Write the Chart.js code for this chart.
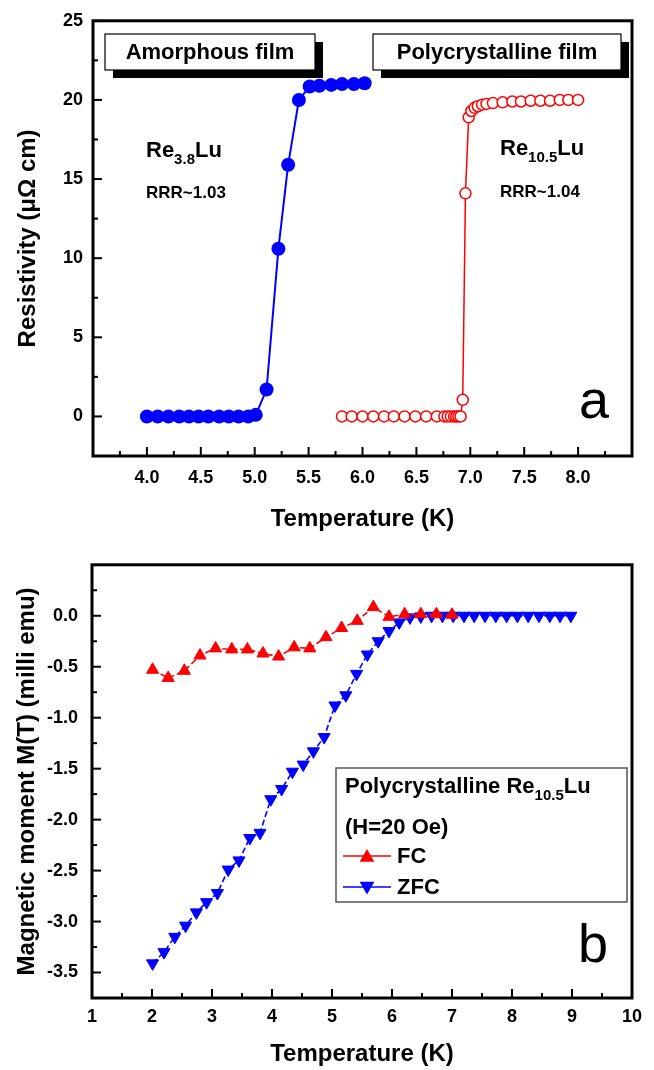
<!DOCTYPE html>
<html><head><meta charset="utf-8">
<script src="https://cdn.jsdelivr.net/npm/chart.js@4.4.1/dist/chart.umd.min.js"></script>
<style>
html,body{margin:0;padding:0;background:#fff;}
#wrap{position:relative;width:654px;height:1070px;overflow:hidden;}
canvas{position:absolute;left:0;}
#c1{top:0;} #c2{top:540px;}
</style></head><body>
<div id="wrap"><canvas id="c1" width="654" height="540"></canvas><canvas id="c2" width="654" height="530"></canvas></div>
<script>
const FONT = '"Liberation Sans", Arial, Helvetica, sans-serif';

// ---------- Panel a : resistivity ----------
const amorphT   = [4.0,4.1,4.2,4.3,4.39,4.48,4.57,4.67,4.76,4.85,4.94,5.01,5.11,5.22,5.31,5.41,5.51,5.6,5.71,5.81,5.92,6.02];
const amorphRho = [0,0,0,0,0,0,0,0,0,0,0,0.1,1.7,10.6,15.9,20.0,20.85,20.9,20.95,21.0,21.0,21.05];
const polyT     = [5.81,5.9,6.0,6.1,6.2,6.29,6.39,6.49,6.59,6.69,6.76,6.79,6.82,6.85,6.87,6.89,6.91,
                   6.93,6.955,6.985,7.01,7.04,7.07,7.11,7.15,7.21,7.3,7.39,7.47,7.56,7.65,7.74,7.83,7.91,8.0];
const polyRho   = [0,0,0,0,0,0,0,0,0,0,0,0,0,0,0,0,0,
                   1.05,14.1,18.9,19.3,19.5,19.6,19.7,19.75,19.8,19.85,19.9,19.9,19.95,19.95,19.95,20.0,20.0,20.0];
const xTicksA = [4.0,4.5,5.0,5.5,6.0,6.5,7.0,7.5,8.0];
const yTicksA = [0,5,10,15,20,25];

// ---------- Panel b : magnetic moment ----------
const fcT = [2.01,2.27,2.54,2.8,3.06,3.33,3.59,3.85,4.11,4.37,4.63,4.9,5.16,5.42,5.69,5.95,6.21,6.48,6.74,7.0];
const fcM = [-0.53,-0.61,-0.54,-0.39,-0.32,-0.33,-0.33,-0.37,-0.40,-0.31,-0.32,-0.21,-0.12,-0.05,0.085,-0.01,0.015,0.015,0.015,0.01];
const zfcT = [2.01,2.2,2.38,2.56,2.74,2.91,3.09,3.27,3.45,3.63,3.8,3.98,4.16,4.34,4.52,4.69,4.87,5.05,5.23,5.41,
              5.59,5.77,5.95,6.12,6.3,6.48,6.66,6.84,7.02,7.2,7.37,7.55,7.73,7.91,8.09,8.27,8.45,8.63,8.8,8.98];
const zfcM = [-3.41,-3.30,-3.15,-3.04,-2.91,-2.81,-2.72,-2.49,-2.40,-2.18,-2.13,-1.80,-1.70,-1.53,-1.46,-1.33,-1.19,-0.88,-0.78,-0.57,
              -0.38,-0.25,-0.15,-0.065,-0.016,-0.006,0,0,0,0,0,0,0,0,0,0,0,0,0,0];
const xTicksB = [1,2,3,4,5,6,7,8,9,10];
const yTicksB = [-3.5,-3.0,-2.5,-2.0,-1.5,-1.0,-0.5,0.0];

const pts = (xs, ys) => xs.map((x, i) => ({x, y: ys[i]}));
const tickFont = {family: FONT, size: 18, weight: 'bold'};
const titleFont = {family: FONT, size: 24, weight: 'bold'};

// frame + inward ticks
const framePlugin = {
  id: 'frame',
  afterDraw(chart) {
    const {ctx, chartArea: a, scales} = chart;
    ctx.save();
    ctx.strokeStyle = '#000';
    ctx.lineCap = 'butt';
    const drawTicks = (scale, horiz) => {
      const vals = scale.ticks.map(t => t.value);
      const step = vals[1] - vals[0];
      const minors = [];
      for (let v = vals[0] - step / 2; v <= vals[vals.length - 1] + step / 2 + 1e-9; v += step) minors.push(v);
      ctx.lineWidth = 2;
      const seg = (v, len) => {
        if (v < scale.min - 1e-9 || v > scale.max + 1e-9) return;
        const p = scale.getPixelForValue(v);
        ctx.beginPath();
        if (horiz) { ctx.moveTo(p, a.bottom); ctx.lineTo(p, a.bottom - len); }
        else { ctx.moveTo(a.left, p); ctx.lineTo(a.left + len, p); }
        ctx.stroke();
      };
      vals.forEach(v => seg(v, 9));
      minors.forEach(v => seg(v, 5));
    };
    drawTicks(scales.x, true);
    drawTicks(scales.y, false);
    ctx.lineWidth = 3;
    ctx.strokeRect(a.left, a.top, a.right - a.left, a.bottom - a.top);
    ctx.restore();
  }
};

function subText(ctx, x, y, parts, size, subSize, drop) {
  // parts: [main, sub, main, ...]
  let cx = x;
  parts.forEach((p, i) => {
    const isSub = i % 2 === 1;
    ctx.font = 'bold ' + (isSub ? subSize : size) + 'px ' + FONT;
    ctx.fillText(p, cx, isSub ? y + drop : y);
    cx += ctx.measureText(p).width;
  });
}

const annotA = {
  id: 'annotA',
  afterDraw(chart) {
    const ctx = chart.ctx;
    ctx.save();
    const box = (x, y, w, h, text) => {
      ctx.fillStyle = '#000';
      ctx.fillRect(x + 8, y + 8, w, h);
      ctx.fillStyle = '#fff';
      ctx.fillRect(x, y, w, h);
      ctx.lineWidth = 1.2;
      ctx.strokeStyle = '#000';
      ctx.strokeRect(x, y, w, h);
      ctx.fillStyle = '#000';
      ctx.font = 'bold 22px ' + FONT;
      ctx.textAlign = 'center';
      ctx.textBaseline = 'middle';
      ctx.fillText(text, x + w / 2, y + h / 2 + 1);
    };
    box(105, 34, 210, 36, 'Amorphous film');
    box(373, 34, 248, 36, 'Polycrystalline film');
    ctx.textAlign = 'left';
    ctx.textBaseline = 'alphabetic';
    ctx.fillStyle = '#000';
    subText(ctx, 146, 157, ['Re', '3.8', 'Lu'], 22, 15, 7);
    ctx.font = 'bold 17px ' + FONT;
    ctx.fillText('RRR~1.03', 146, 198);
    subText(ctx, 500, 155, ['Re', '10.5', 'Lu'], 22, 15, 7);
    ctx.font = 'bold 17px ' + FONT;
    ctx.fillText('RRR~1.04', 500, 197);
    ctx.font = '54px ' + FONT;
    ctx.fillText('a', 579, 418);
    ctx.restore();
  }
};

const annotB = {
  id: 'annotB',
  afterDraw(chart) {
    const ctx = chart.ctx;
    ctx.save();
    ctx.fillStyle = '#fff';
    ctx.fillRect(336, 228, 291, 134);
    ctx.lineWidth = 1.5;
    ctx.strokeStyle = '#555';
    ctx.strokeRect(336, 228, 291, 134);
    ctx.fillStyle = '#000';
    ctx.textAlign = 'left';
    ctx.textBaseline = 'alphabetic';
    subText(ctx, 345, 253, ['Polycrystalline Re', '10.5', 'Lu'], 22, 15, 7);
    ctx.font = 'bold 22px ' + FONT;
    ctx.fillText('(H=20 Oe)', 345, 294);
    const row = (y, color, rot, label) => {
      ctx.strokeStyle = color;
      ctx.lineWidth = 1.5;
      ctx.beginPath(); ctx.moveTo(343, y); ctx.lineTo(391, y); ctx.stroke();
      ctx.fillStyle = color;
      Chart.helpers.drawPoint(ctx, {pointStyle: 'triangle', radius: 7, rotation: rot, borderWidth: 1}, 367, y + (rot ? -1 : 1.5));
      ctx.fillStyle = '#000';
      ctx.font = 'bold 22px ' + FONT;
      ctx.textBaseline = 'middle';
      ctx.fillText(label, 397, y + 1);
      ctx.textBaseline = 'alphabetic';
    };
    row(316, '#ff0000', 0, 'FC');
    row(347, '#0000ff', 180, 'ZFC');
    ctx.font = '54px ' + FONT;
    ctx.fillStyle = '#000';
    ctx.fillText('b', 578, 422);
    ctx.restore();
  }
};

function axisCommon(ticksArr, fmt, pad, size, isX, title, titlePad) {
  return {
    type: 'linear',
    afterBuildTicks: s => { s.ticks = ticksArr.map(v => ({value: v})); },
    afterFit: s => { if (isX) s.height = size; else s.width = size; },
    grid: {display: false, drawTicks: false},
    border: {display: false},
    ticks: {padding: pad, font: tickFont, color: '#000', callback: fmt, autoSkip: false, maxRotation: 0, minRotation: 0},
    title: {display: true, text: title, font: titleFont, color: '#000', padding: titlePad}
  };
}

new Chart(document.getElementById('c1'), {
  type: 'scatter',
  data: {datasets: [
    {data: pts(amorphT, amorphRho), showLine: true, borderColor: '#0000ff', borderWidth: 2,
     pointRadius: 7, pointBackgroundColor: '#0000ff', pointBorderColor: '#0000ff', pointBorderWidth: 0, clip: false},
    {data: pts(polyT, polyRho), showLine: true, borderColor: '#ff0000', borderWidth: 1.5,
     pointRadius: 5.5, pointBackgroundColor: '#ffffff', pointBorderColor: '#ff0000', pointBorderWidth: 1.5, clip: false}
  ]},
  options: {
    responsive: false, animation: false, devicePixelRatio: 1,
    layout: {padding: {left: 0, right: 22, top: 19, bottom: 0}},
    plugins: {legend: {display: false}, tooltip: {enabled: false}},
    scales: {
      x: Object.assign(axisCommon(xTicksA, v => Number(v).toFixed(1), 11, 84, true, 'Temperature (K)', {top: 0, bottom: 6}), {min: 3.5, max: 8.5}),
      y: Object.assign(axisCommon(yTicksA, v => String(v), 10, 93, false, 'Resistivity (\u03bc\u03a9 cm)', {top: 14, bottom: 0}), {min: -2.5, max: 25})
    }
  },
  plugins: [framePlugin, annotA]
});

new Chart(document.getElementById('c2'), {
  type: 'scatter',
  data: {datasets: [
    {data: pts(fcT, fcM), showLine: true, borderColor: '#ff0000', borderWidth: 1.6, borderDash: [6, 3],
     pointStyle: 'triangle', pointRadius: 7, pointBackgroundColor: '#ff0000', pointBorderColor: '#ff0000', pointBorderWidth: 1, clip: false},
    {data: pts(zfcT, zfcM), showLine: true, borderColor: '#0000ff', borderWidth: 1.6, borderDash: [6, 3],
     pointStyle: 'triangle', pointRotation: 180, pointRadius: 7, pointBackgroundColor: '#0000ff', pointBorderColor: '#0000ff', pointBorderWidth: 1, clip: false}
  ]},
  options: {
    responsive: false, animation: false, devicePixelRatio: 1,
    layout: {padding: {left: 0, right: 22, top: 20.5, bottom: 0}},
    plugins: {legend: {display: false}, tooltip: {enabled: false}},
    scales: {
      x: Object.assign(axisCommon(xTicksB, v => String(v), 8, 72, true, 'Temperature (K)', {top: 0, bottom: 1}), {min: 1, max: 10}),
      y: Object.assign(axisCommon(yTicksB, v => Number(v).toFixed(1), 14, 92, false, 'Magnetic moment M(T) (milli emu)', {top: 13, bottom: 0}), {min: -3.75, max: 0.5})
    }
  },
  plugins: [framePlugin, annotB]
});
</script>
</body></html>
